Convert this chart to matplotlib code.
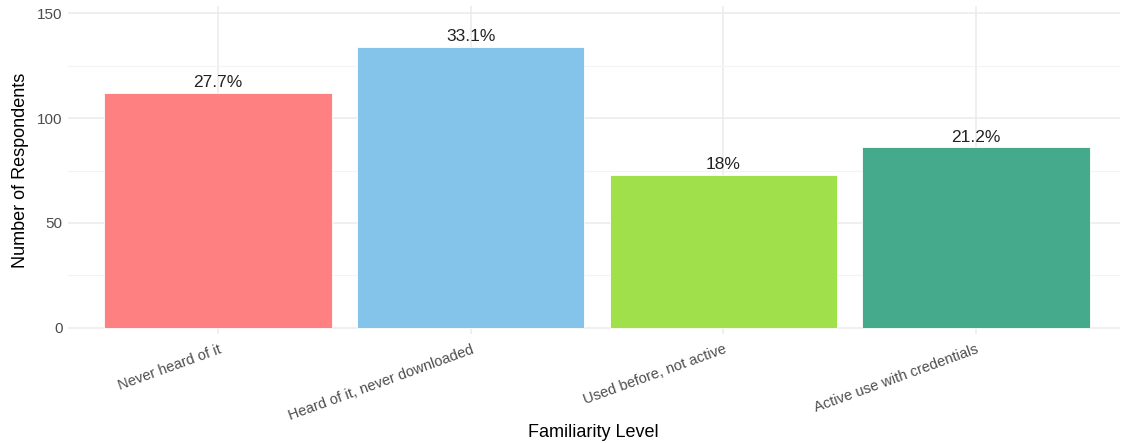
import matplotlib
matplotlib.use("Agg")
import matplotlib.pyplot as plt
from matplotlib.ticker import MultipleLocator

plt.rcParams['font.family'] = ['Liberation Sans', 'DejaVu Sans']

levels = ["Never heard of it", "Heard of it, never downloaded",
          "Used before, not active", "Active use with credentials"]
counts = [112, 134, 73, 86]
pct_labels = ["27.7%", "33.1%", "18%", "21.2%"]
colors = ["#FF8080", "#85C4EA", "#A0E04A", "#44AA8B"]

fig = plt.figure(figsize=(11.23, 4.43), dpi=100)
ax = fig.add_axes([0.0605, 0.246, 0.9365, 0.7405])

x = list(range(1, len(levels) + 1))
ax.bar(x, counts, width=0.9, color=colors, edgecolor="white", linewidth=0.6, zorder=2)

for xi, c, lab in zip(x, counts, pct_labels):
    ax.text(xi, c + 1.2, lab, ha="center", va="bottom", fontsize=12.5, color="#222222")

ax.set_xlim(0.406, 4.569)
ax.set_ylim(-3, 153.5)
ax.yaxis.set_major_locator(MultipleLocator(50))
ax.yaxis.set_minor_locator(MultipleLocator(25))
ax.set_xticks(x)
ax.set_xticklabels(levels, rotation=20, ha="right", va="top",
                   rotation_mode="anchor", fontsize=10.5, color="#4D4D4D")
ax.tick_params(axis="y", labelsize=11, labelcolor="#4D4D4D")
ax.tick_params(which="both", length=0, pad=4)
ax.tick_params(axis="x", pad=6)

ax.grid(which="major", color="#EBEBEB", linewidth=1.1, zorder=0)
ax.grid(which="minor", axis="y", color="#F3F3F3", linewidth=0.8, zorder=0)
ax.set_axisbelow(True)
for s in ax.spines.values():
    s.set_visible(False)

ax.set_xlabel("Familiarity Level", fontsize=13, labelpad=1)
ax.set_ylabel("Number of Respondents", fontsize=13, labelpad=6)

fig.savefig("out.png", dpi=100)
